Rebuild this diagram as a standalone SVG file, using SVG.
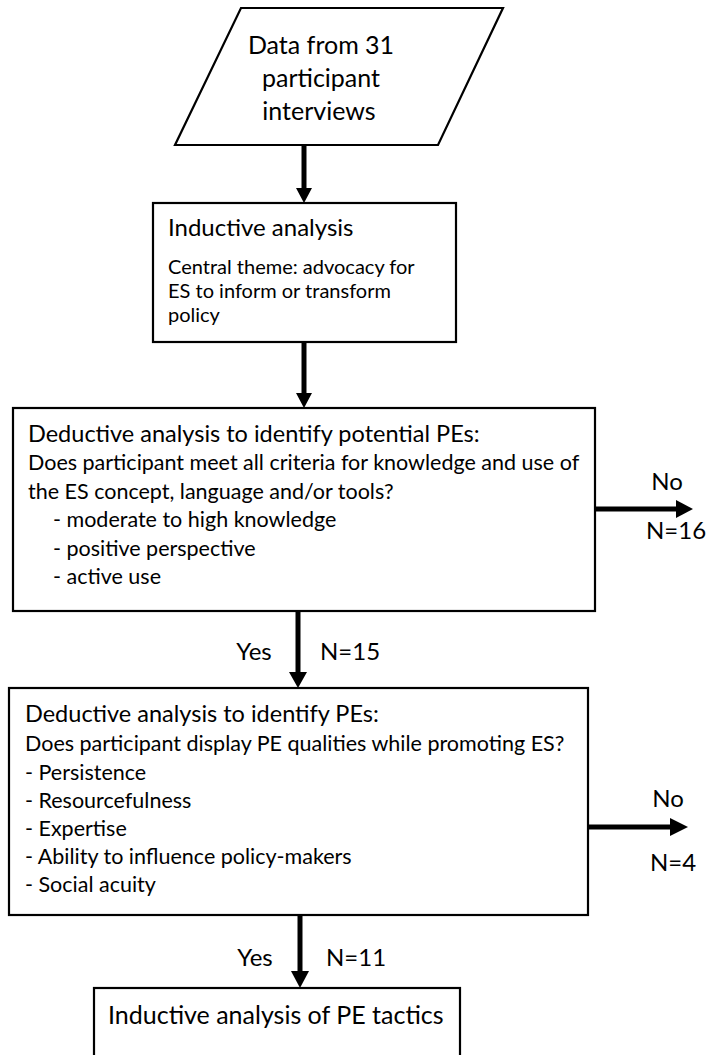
<svg xmlns="http://www.w3.org/2000/svg" width="713" height="1055" viewBox="0 0 713 1055">
<style>
.shape{fill:#fff;stroke:#000;stroke-width:2.2}
.conn{stroke:#000;stroke-width:5;fill:none}
.head{fill:#000}
text{font-family:Lato,"Liberation Sans",sans-serif;fill:#000}
.t1{font-size:23.5px}
.t2{font-size:21.5px}
.t3{font-size:20px}
.lbl{font-size:24px}
</style>
<rect width="713" height="1055" fill="#fff"/>
<g id="connectors">
<line class="conn" x1="304" y1="145" x2="304" y2="190"/>
<polygon class="head" points="296,188 312,188 304,203"/>
<line class="conn" x1="304" y1="342" x2="304" y2="395"/>
<polygon class="head" points="296,393 312,393 304,408"/>
<line class="conn" x1="298" y1="611" x2="298" y2="674"/>
<polygon class="head" points="289,672 307,672 298,688"/>
<line class="conn" x1="300" y1="915" x2="300" y2="973"/>
<polygon class="head" points="291,971 309,971 300,988"/>
<line class="conn" x1="595" y1="509" x2="678" y2="509"/>
<polygon class="head" points="676,500 676,518 693,509"/>
<line class="conn" x1="588" y1="827" x2="672" y2="827"/>
<polygon class="head" points="670,818 670,836 688,827"/>
<text class="lbl" x="667" y="490" text-anchor="middle">No</text>
<text class="lbl" x="646" y="539">N=16</text>
<text class="lbl" x="668" y="807" text-anchor="middle">No</text>
<text class="lbl" x="650" y="871">N=4</text>
<text class="lbl" x="254" y="660" text-anchor="middle">Yes</text>
<text class="lbl" x="320" y="660">N=15</text>
<text class="lbl" x="255" y="966" text-anchor="middle">Yes</text>
<text class="lbl" x="326" y="966">N=11</text>
</g>
<g id="node-data">
<polygon class="shape" points="241,8 503,8 438,145 175,145"/>
<text class="t1" x="321" y="54" text-anchor="middle" style="font-size:25px">Data from 31</text>
<text class="t1" x="321" y="87" text-anchor="middle" style="font-size:25px">participant</text>
<text class="t1" x="319" y="120" text-anchor="middle" style="font-size:25px">interviews</text>
</g>
<g id="node-inductive">
<rect class="shape" x="153" y="203" width="303" height="139"/>
<text x="168" y="236" style="font-size:24px">Inductive analysis</text>
<text class="t3" x="168" y="274">Central theme: advocacy for</text>
<text class="t3" x="168" y="298">ES to inform or transform</text>
<text class="t3" x="168" y="322">policy</text>
</g>
<g id="node-deductive-potential">
<rect class="shape" x="13" y="408" width="582" height="203"/>
<text class="t1" x="28" y="442">Deductive analysis to identify potential PEs:</text>
<text class="t2" x="28" y="470">Does participant meet all criteria for knowledge and use of</text>
<text class="t2" x="28" y="499">the ES concept, language and/or tools?</text>
<text class="t2" x="53" y="527">- moderate to high knowledge</text>
<text class="t2" x="53" y="556">- positive perspective</text>
<text class="t2" x="53" y="584">- active use</text>
</g>
<g id="node-deductive-pe">
<rect class="shape" x="9" y="688" width="579" height="227"/>
<text class="t1" x="25" y="722">Deductive analysis to identify PEs:</text>
<text class="t2" x="25" y="751">Does participant display PE qualities while promoting  ES?</text>
<text class="t2" x="25" y="780">- Persistence</text>
<text class="t2" x="25" y="808">- Resourcefulness</text>
<text class="t2" x="25" y="836">- Expertise</text>
<text class="t2" x="25" y="864">- Ability to influence policy-makers</text>
<text class="t2" x="25" y="892">- Social acuity</text>
</g>
<g id="node-tactics">
<rect class="shape" x="94" y="988" width="366" height="80"/>
<text class="t1" x="108" y="1024" style="font-size:25px">Inductive analysis of PE tactics</text>
</g>
</svg>
